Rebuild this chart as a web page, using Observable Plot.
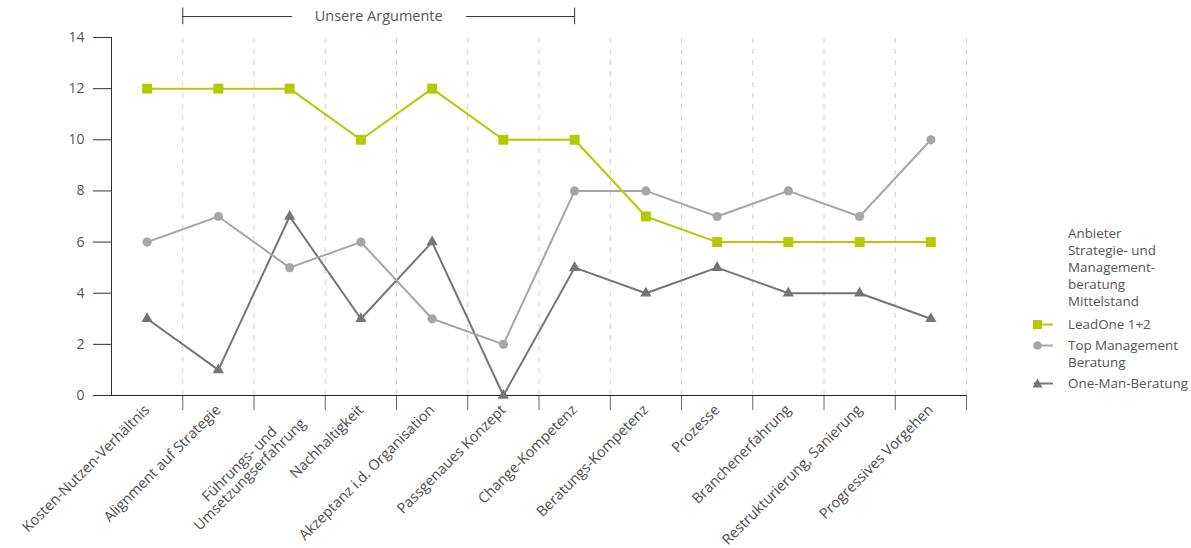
<!DOCTYPE html>
<html><head><meta charset="utf-8">
<script src="https://cdn.jsdelivr.net/npm/d3@7"></script>
<script src="https://cdn.jsdelivr.net/npm/@observablehq/plot@0.6"></script>
<style>
body{margin:0;background:#fff;font-family:"Open Sans",sans-serif;}
#wrap{position:relative;width:1191px;height:548px;overflow:hidden;}
#legend{position:absolute;left:1030px;top:225px;font-size:13.4px;color:#555;line-height:17px;white-space:nowrap;}
#legend .title{padding-left:38px;margin-bottom:6px;}
#legend .item{display:flex;align-items:flex-start;margin-bottom:4px;}
#legend .sw{width:38px;height:17px;flex:none;}
</style></head><body><div id="wrap"></div>
<script>
const categories = [
  "Kosten-Nutzen-Verhältnis","Alignment auf Strategie","Führungs- und\nUmsetzungserfahrung",
  "Nachhaltigkeit","Akzeptanz i.d. Organisation","Passgenaues Konzept","Change-Kompetenz",
  "Beratungs-Kompetenz","Prozesse","Branchenerfahrung","Restrukturierung, Sanierung","Progressives Vorgehen"
];
const leadOne = [12,12,12,10,12,10,10,7,6,6,6,6];
const topMgmt = [6,7,5,6,3,2,8,8,7,8,7,10];
const oneMan  = [3,1,7,3,6,0,5,4,5,4,4,3];
const yTicks = [0,2,4,6,8,10,12,14];
const seriesNames = ["LeadOne 1+2","Top Management\nBeratung","One-Man-Beratung"];
const seriesColors = ["#b5c900","#a4a6a8","#737576"];
const seriesSymbols = ["square","circle","triangle"];
const legendTitle = "Anbieter\nStrategie- und\nManagement-\nberatung\nMittelstand";
const bracketLabel = "Unsere Argumente";
// bracket spans from the boundary before "Alignment auf Strategie" to the centre of "Change-Kompetenz" (category index units)
const bracketStart = 0.5, bracketEnd = 6;
const bracketLevel = 14.82, bracketCapLow = 14.5, bracketCapHigh = 15.15;

const n = categories.length;
const idx = d3.range(n);
const bounds = idx.map(i => i + 0.5);
const rows = vals => vals.map((v, i) => ({i, v}));
const seriesData = [leadOne, topMgmt, oneMan];
const sizes = [5.6, 4.6, 4.2];
const drawOrder = [2, 1, 0];

const marks = [
  Plot.ruleY([bracketLevel], {x1: bracketStart, x2: bracketEnd, stroke: "#333", strokeWidth: 1}),
  Plot.ruleX([bracketStart, bracketEnd], {y1: bracketCapLow, y2: bracketCapHigh, stroke: "#333"}),
  Plot.text([bracketLabel], {x: (bracketStart + bracketEnd) / 2, y: bracketLevel, text: d => d, fill: "#555", fontSize: 14.5, stroke: "white", strokeWidth: 48, lineAnchor: "middle"}),
  Plot.ruleX(bounds, {y1: 0, y2: 14, stroke: "#d0d0d0", strokeDasharray: "5,6"}),
  Plot.axisY({ticks: yTicks, tickSize: 18, tickPadding: 9, stroke: "#333", fill: "#555", fontSize: 14, label: null, tickFormat: d => d}),
  Plot.ruleX([-0.5], {y1: 0, y2: 14, stroke: "#333"}),
  Plot.axisX({ticks: bounds, tickSize: 15, tickFormat: () => "", stroke: "#666", label: null}),
  Plot.axisX({ticks: idx, tickSize: 0, tickPadding: 12, tickRotate: -45, tickFormat: i => categories[i], fill: "#4d4d4d", fontSize: 14.5, label: null}),
  Plot.ruleY([0], {x1: -0.5, x2: n - 0.5, stroke: "#222"}),
];
for (const k of drawOrder) {
  const d = rows(seriesData[k]);
  marks.push(Plot.line(d, {x: "i", y: "v", stroke: seriesColors[k], strokeWidth: 2}));
  marks.push(Plot.dot(d, {x: "i", y: "v", symbol: seriesSymbols[k], r: sizes[k], fill: seriesColors[k], stroke: "none"}));
}
const chart = Plot.plot({
  width: 1191, height: 548,
  marginLeft: 111, marginRight: 225, marginTop: 37, marginBottom: 153,
  style: {fontFamily: '"Open Sans", sans-serif', fontSize: "13px", color: "#555", background: "white", overflow: "visible"},
  x: {domain: [-0.5, n - 0.5], axis: null},
  y: {domain: [0, 14], axis: null},
  marks
});
const wrap = document.getElementById("wrap");
wrap.appendChild(chart);

// centre the lines of multi-line rotated tick labels within their block, block centred on the tick (as in the original)
chart.querySelectorAll('g[aria-label="x-axis tick label"] text').forEach(t => {
  const spans = [...t.querySelectorAll("tspan")];
  if (spans.length > 1) {
    const w = Math.max(...spans.map(s => s.getComputedTextLength()));
    t.setAttribute("text-anchor", "middle");
    spans.forEach(s => s.setAttribute("x", -w / 2));
    t.setAttribute("transform", (t.getAttribute("transform") || "") + " translate(0,12)");
  }
});

const legend = document.createElement("div");
legend.id = "legend";
const t = document.createElement("div");
t.className = "title";
t.innerHTML = legendTitle.split("\n").join("<br>");
legend.appendChild(t);
seriesNames.forEach((name, k) => {
  const item = document.createElement("div");
  item.className = "item";
  const sym = seriesSymbols[k];
  const c = seriesColors[k];
  let shape;
  if (sym === "square") shape = `<rect x="3" y="4" width="9" height="9" fill="${c}"/>`;
  else if (sym === "circle") shape = `<circle cx="7.5" cy="8.5" r="4.3" fill="${c}"/>`;
  else shape = `<path d="M7.5,3.5 L12.5,12.5 L2.5,12.5 Z" fill="${c}"/>`;
  item.innerHTML = `<svg class="sw" width="38" height="17"><line x1="4" y1="8.5" x2="23" y2="8.5" stroke="${c}" stroke-width="2"/>${shape}</svg><span>${name.split("\n").join("<br>")}</span>`;
  legend.appendChild(item);
});
wrap.appendChild(legend);
</script>
</body></html>
